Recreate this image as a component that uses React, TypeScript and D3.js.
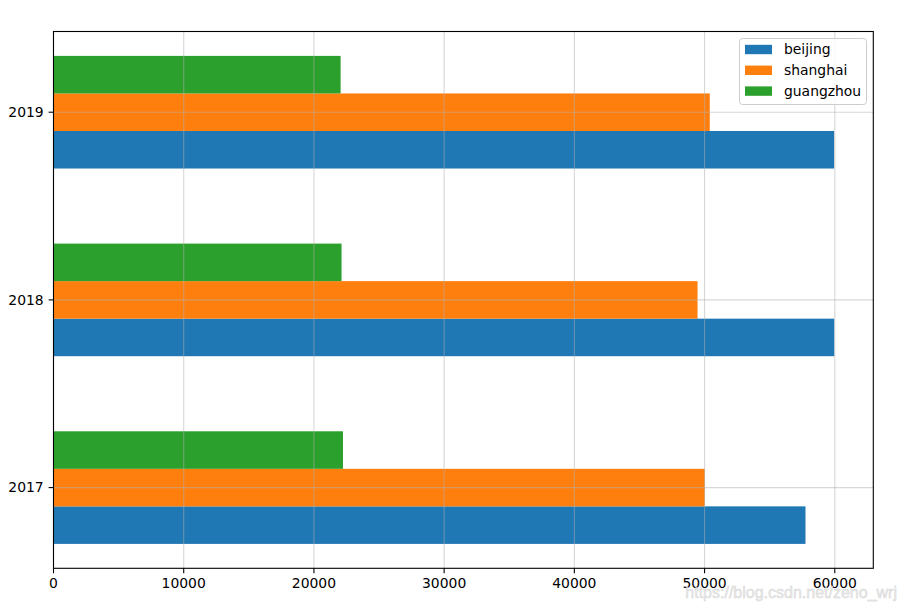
import React from "react";
import * as d3 from "d3";

const years = ["2017", "2018", "2019"];
const seriesNames = ["beijing", "shanghai", "guangzhou"];
const beijing = [57750, 59960, 59950];
const shanghai = [50020, 49460, 50400];
const guangzhou = [22230, 22120, 22050];
const colors = ["#1f77b4", "#ff7f0e", "#2ca02c"];
const xTicks = [0, 10000, 20000, 30000, 40000, 50000, 60000];

const W = 907;
const H = 610;
const left = 53.5;
const right = 873.3;
const top = 31.5;
const bottom = 568.3;
const font = "'DejaVu Sans', sans-serif";

export default function App() {
  const values = [beijing, shanghai, guangzhou];
  const maxV = d3.max(values.flat()) as number;
  const x = d3.scaleLinear().domain([0, maxV * 1.05]).range([left, right]);
  const barH = 0.2;
  const y = d3.scaleLinear().domain([-0.43, 2.43]).range([bottom, top]);
  const offsets = [-0.2, 0, 0.2];

  return (
    <svg width={W} height={H} style={{ position: "absolute", left: 0, top: 0, background: "#fff" }}>
      <rect x={0} y={0} width={W} height={H} fill="#fff" />
      {values.map((arr, si) =>
        arr.map((v, i) => {
          const c = i + offsets[si];
          const y1 = y(c + barH / 2);
          const y2 = y(c - barH / 2);
          return (
            <rect
              key={`${si}-${i}`}
              x={x(0)}
              y={y1}
              width={x(v) - x(0)}
              height={y2 - y1}
              fill={colors[si]}
            />
          );
        })
      )}
      {/* grid */}
      {xTicks.map((t) => (
        <line key={"gx" + t} x1={x(t)} x2={x(t)} y1={top} y2={bottom} stroke="#b0b0b0" strokeOpacity={0.5} strokeWidth={1.1} />
      ))}
      {years.map((yr, i) => (
        <line key={"gy" + yr} x1={left} x2={right} y1={y(i)} y2={y(i)} stroke="#b0b0b0" strokeOpacity={0.5} strokeWidth={1.1} />
      ))}
      {/* spines */}
      <rect x={left} y={top} width={right - left} height={bottom - top} fill="none" stroke="#000" strokeWidth={1.1} />
      {/* x ticks */}
      {xTicks.map((t) => (
        <g key={"tx" + t}>
          <line x1={x(t)} x2={x(t)} y1={bottom} y2={bottom + 4.9} stroke="#000" strokeWidth={1.1} />
          <text x={x(t)} y={bottom + 19.5} textAnchor="middle" fontFamily={font} fontSize={13.9} fill="#000">
            {t}
          </text>
        </g>
      ))}
      {/* y ticks */}
      {years.map((yr, i) => (
        <g key={"ty" + yr}>
          <line x1={left - 4.9} x2={left} y1={y(i)} y2={y(i)} stroke="#000" strokeWidth={1.1} />
          <text x={left - 9.8} y={y(i)} dy="0.35em" textAnchor="end" fontFamily={font} fontSize={13.9} fill="#000">
            {yr}
          </text>
        </g>
      ))}
      {/* legend */}
      <g>
        <rect x={739.5} y={38.5} width={127} height={66} rx={3} ry={3} fill="#fff" fillOpacity={0.8} stroke="#cccccc" strokeWidth={1} />
        {seriesNames.map((n, i) => {
          const cy = 49.5 + i * 20.8;
          return (
            <g key={"lg" + n}>
              <rect x={745} y={cy - 4.7} width={27} height={9.4} fill={colors[i]} />
              <text x={784} y={cy} dy="0.35em" fontFamily={font} fontSize={13.9} fill="#000">
                {n}
              </text>
            </g>
          );
        })}
      </g>
      {/* watermark */}
      <text x={897} y={598} textAnchor="end" fontFamily="'Liberation Sans', Arial, sans-serif" fontSize={16} fill="#e6e6e6" stroke="#d0d0d0" strokeWidth={0.4} opacity={0.9}>
        https://blog.csdn.net/zeno_wrj
      </text>
    </svg>
  );
}
